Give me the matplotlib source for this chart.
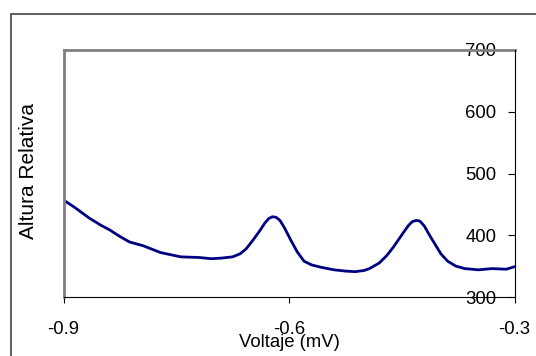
import matplotlib
matplotlib.use("Agg")
import matplotlib.pyplot as plt
from matplotlib.patches import Rectangle

plt.rcParams["font.family"] = ["Liberation Sans", "DejaVu Sans"]
plt.rcParams["axes.unicode_minus"] = False

# curve
voltaje = [-0.900, -0.885, -0.866, -0.850, -0.839, -0.825, -0.812, -0.794,
           -0.771, -0.744, -0.720, -0.703, -0.690, -0.675, -0.665, -0.657,
           -0.648, -0.639, -0.632, -0.627, -0.622, -0.617, -0.612, -0.606,
           -0.598, -0.589, -0.580, -0.570, -0.557, -0.540, -0.525, -0.512,
           -0.500, -0.493, -0.480, -0.470, -0.461, -0.448, -0.441, -0.436,
           -0.431, -0.426, -0.420, -0.413, -0.407, -0.398, -0.389, -0.378,
           -0.366, -0.348, -0.330, -0.311, -0.300]
altura = [457, 445, 428, 416, 409, 398, 389, 383,
          372, 365, 364, 362, 363, 365, 370, 378,
          392, 407, 420, 427, 430, 429, 424, 412,
          393, 373, 358, 352, 348, 344, 342, 341,
          343, 346, 355, 367, 381, 404, 416, 422,
          424, 423, 415, 400, 388, 370, 358, 350,
          346, 344, 346, 345, 349]

x_ticks = [-0.9, -0.6, -0.3]
x_labels = ["-0.9", "-0.6", "-0.3"]
y_ticks = [300, 400, 500, 600, 700]

W, H = 536, 356
fig = plt.figure(figsize=(W / 100, H / 100), dpi=100)

# outer chart frame (runs off the right and bottom edges)
fig.patches.append(Rectangle((11 / W, -0.1), 1.2, 1 - 14 / H + 0.1,
                             transform=fig.transFigure, fill=False,
                             edgecolor="#333333", linewidth=1.1))

ax = fig.add_axes([63.5 / W, 1 - 297 / H, 451 / W, 247 / H])
ax.plot(voltaje, altura, color="#000080", linewidth=2.0)

ax.set_xlim(-0.9, -0.3)
ax.set_ylim(300, 700)
ax.set_xticks(x_ticks)
ax.set_xticklabels(x_labels)
ax.set_yticks(y_ticks)

fs = 13.3
ax.tick_params(axis="x", direction="out", length=4.3, width=0.8,
               pad=13.0, labelsize=fs)
ax.tick_params(axis="y", direction="in", length=4.8, width=0.8,
               left=False, labelleft=False, right=True, labelright=True,
               pad=-13, labelsize=fs)
for t in ax.yaxis.get_major_ticks():
    t.label2.set_horizontalalignment("right")

for side in ["left", "top"]:
    ax.spines[side].set_color("#808080")
    ax.spines[side].set_linewidth(2.0)
for side in ["right", "bottom"]:
    ax.spines[side].set_color("black")
    ax.spines[side].set_linewidth(0.8)
    ax.spines[side].set_zorder(3)

ax.set_xlabel("Voltaje (mV)", fontsize=fs)
ax.xaxis.set_label_coords(0.5, -0.148)
ax.set_ylabel("Altura Relativa", fontsize=15)
ax.yaxis.set_label_coords(-0.056, 0.51)

fig.savefig("out.png", dpi=100)
